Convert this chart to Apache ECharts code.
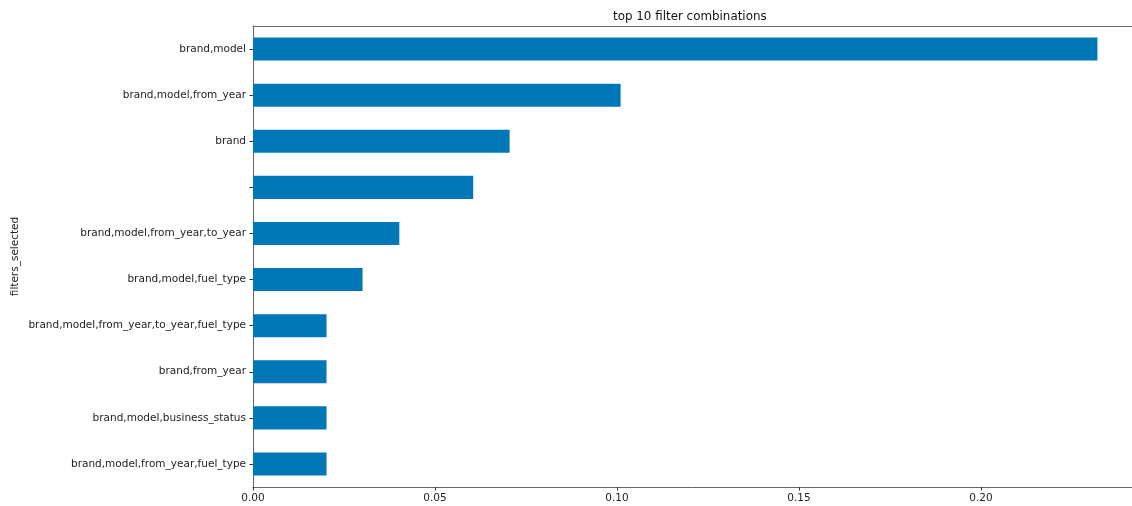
<!DOCTYPE html>
<html>
<head>
<meta charset="utf-8">
<script src="https://cdn.jsdelivr.net/npm/echarts@6/dist/echarts.min.js"></script>
<style>
  html, body {margin:0; padding:0; background:#fff;}
  #chart {width:1132px; height:506px;}
</style>
</head>
<body>
<div id="chart"></div>
<script>
// top to bottom, as in the picture
const filterCombos = [
  'brand,model',
  'brand,model,from_year',
  'brand',
  '',
  'brand,model,from_year,to_year',
  'brand,model,fuel_type',
  'brand,model,from_year,to_year,fuel_type',
  'brand,from_year',
  'brand,model,business_status',
  'brand,model,from_year,fuel_type'
]
const shares = [0.232, 0.101, 0.0705, 0.0605, 0.0402, 0.0301, 0.0202, 0.0202, 0.0202, 0.0202]
const xTicks = [0, 0.05, 0.10, 0.15, 0.20]

const font = 'DejaVu Sans'
const xMax = 0.2415 // axis runs off the right edge of the picture

const chart = echarts.init(document.getElementById('chart'))

const option = {
  animation: false,
  title: {
    text: 'top 10 filter combinations',
    left: 608,
    top: 6,
    textStyle: {fontFamily: font, fontSize: 11.9, fontWeight: 'normal', color: '#111'}
  },
  grid: {left: 253, top: 26, right: 0, bottom: 19},
  xAxis: [
    {
      type: 'value',
      min: 0,
      max: xMax,
      interval: 0.05,
      splitLine: {show: false},
      axisLine: {show: true, lineStyle: {color: '#666', width: 1}},
      axisTick: {show: true, length: 3.5, lineStyle: {color: '#333'}},
      axisLabel: {
        show: true,
        margin: 6,
        showMaxLabel: false,
        fontFamily: font,
        fontSize: 10.5,
        color: '#222',
        formatter: v => xTicks.some(t => Math.abs(t - v) < 1e-9) ? v.toFixed(2) : ''
      }
    },
    {
      // top spine
      type: 'value',
      position: 'top',
      min: 0,
      max: xMax,
      axisLine: {show: true, lineStyle: {color: '#666', width: 1}},
      axisTick: {show: false},
      axisLabel: {show: false},
      splitLine: {show: false}
    }
  ],
  yAxis: {
    type: 'category',
    data: filterCombos,
    inverse: true,
    name: 'filters_selected',
    nameLocation: 'middle',
    nameGap: 232,
    nameMoveOverlap: false,
    nameTextStyle: {fontFamily: font, fontSize: 10.5, color: '#222'},
    axisLine: {show: true, lineStyle: {color: '#666', width: 1}},
    axisTick: {show: true, alignWithLabel: true, length: 3.5, lineStyle: {color: '#333'}},
    axisLabel: {margin: 7, fontFamily: font, fontSize: 10.5, color: '#222'}
  },
  series: [{
    type: 'bar',
    data: shares,
    barWidth: '50%',
    itemStyle: {color: '#0077b6'}
  }]
}

chart.setOption(option)
</script>
</body>
</html>
